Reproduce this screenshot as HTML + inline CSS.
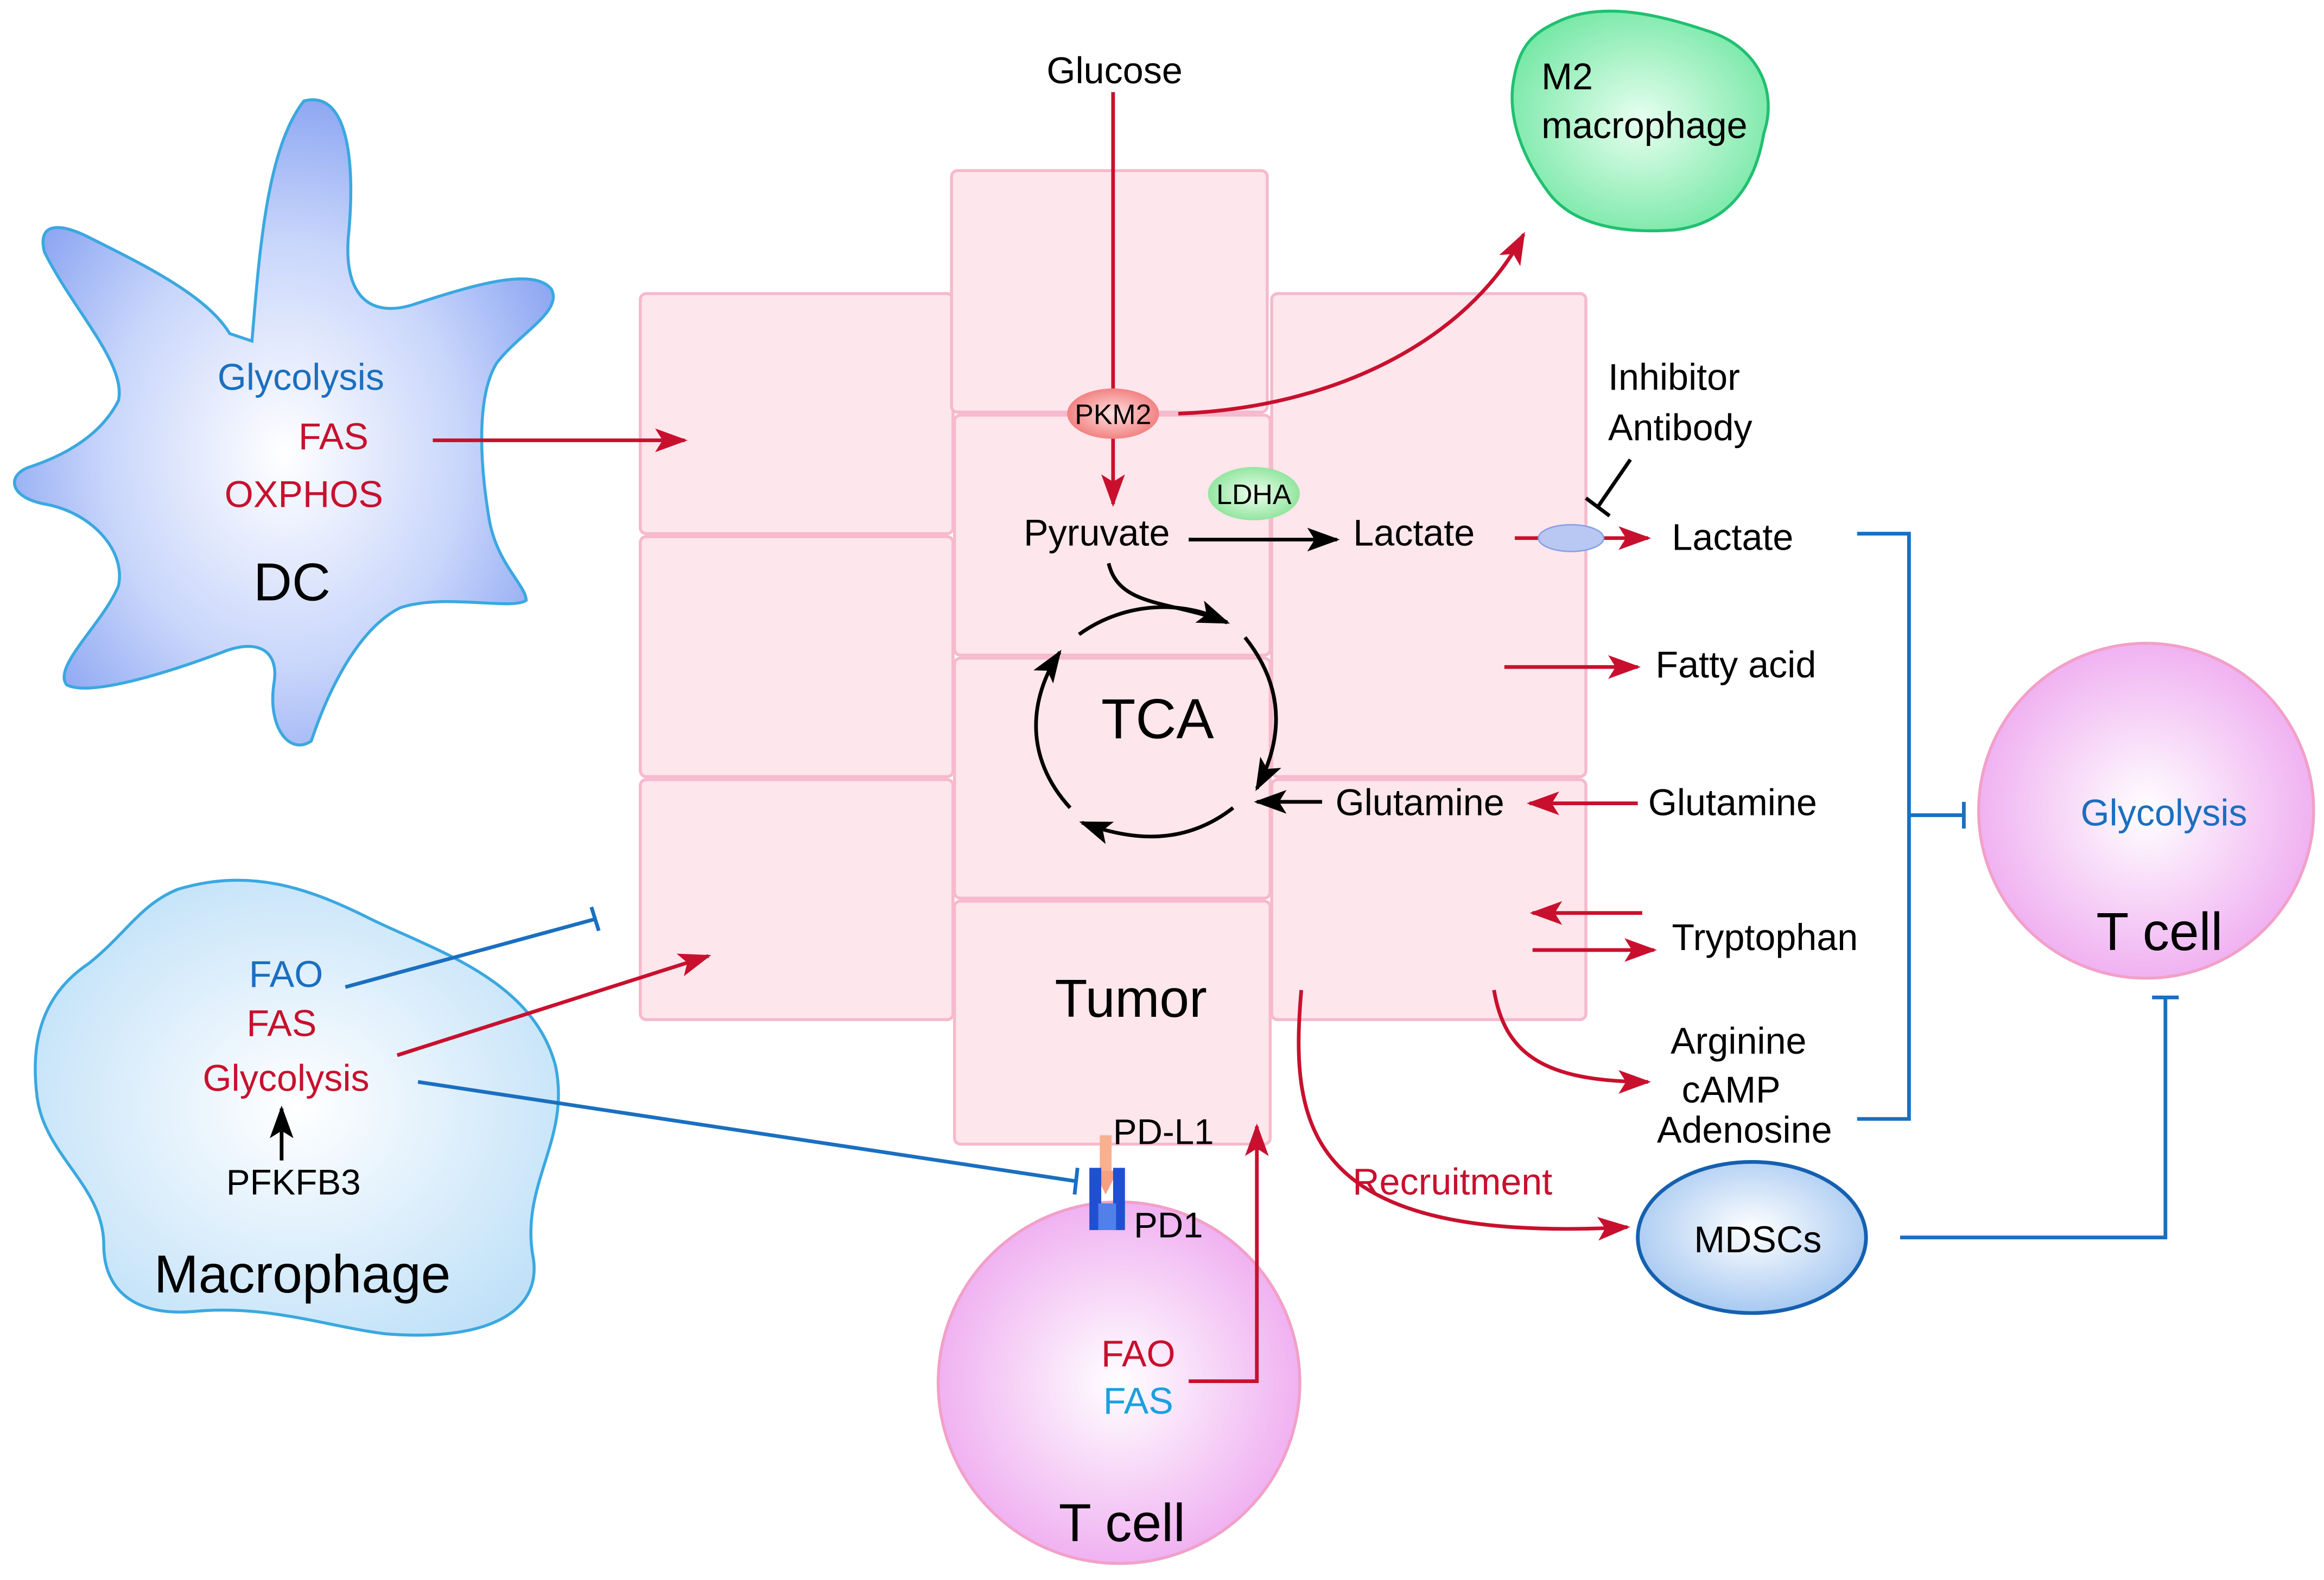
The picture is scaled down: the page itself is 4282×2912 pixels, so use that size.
<!DOCTYPE html>
<html><head><meta charset="utf-8"><style>html,body{margin:0;padding:0;background:#fff}svg{display:block}</style></head>
<body>
<svg width="4282" height="2912" viewBox="0 0 1568 1066" xmlns="http://www.w3.org/2000/svg" font-family="Liberation Sans, sans-serif">
<defs>
<radialGradient id="dc" cx="50%" cy="55%" r="55%"><stop offset="0" stop-color="#ffffff"/><stop offset="0.6" stop-color="#c9d6fb"/><stop offset="1" stop-color="#8fa8f2"/></radialGradient>
<radialGradient id="mac" cx="50%" cy="50%" r="60%"><stop offset="0" stop-color="#ffffff"/><stop offset="1" stop-color="#bfe0f8"/></radialGradient>
<radialGradient id="m2" cx="50%" cy="50%" r="60%"><stop offset="0" stop-color="#e8fff0"/><stop offset="1" stop-color="#6ee6a0"/></radialGradient>
<radialGradient id="tc" cx="50%" cy="50%" r="55%"><stop offset="0" stop-color="#ffffff"/><stop offset="1" stop-color="#eeaaf0"/></radialGradient>
<radialGradient id="md" cx="50%" cy="45%" r="60%"><stop offset="0" stop-color="#ffffff"/><stop offset="1" stop-color="#9fc4f0"/></radialGradient>
<radialGradient id="pk" cx="50%" cy="50%" r="60%"><stop offset="0" stop-color="#ffe0e0"/><stop offset="1" stop-color="#f07070"/></radialGradient>
<radialGradient id="ld" cx="50%" cy="50%" r="60%"><stop offset="0" stop-color="#f0fff0"/><stop offset="1" stop-color="#80e090"/></radialGradient>
<marker id="ar2" markerWidth="22" markerHeight="16" refX="20" refY="8" orient="auto" markerUnits="userSpaceOnUse"><path d="M0,0 L22,8 L0,16 L5,8z" fill="#c8102e"/></marker>
<marker id="ab2" markerWidth="22" markerHeight="16" refX="20" refY="8" orient="auto" markerUnits="userSpaceOnUse"><path d="M0,0 L22,8 L0,16 L5,8z" fill="#000"/></marker>
</defs>
<g fill="#fde6ec" stroke="#f6b9cd" stroke-width="2">
<rect x="432" y="198" width="211" height="162" rx="4"/><rect x="432" y="362" width="211" height="162" rx="4"/><rect x="432" y="526" width="211" height="162" rx="4"/>
<rect x="642" y="115" width="213" height="163" rx="4"/><rect x="644" y="280" width="213" height="162" rx="4"/><rect x="644" y="444" width="213" height="162" rx="4"/><rect x="644" y="608" width="213" height="164" rx="4"/>
<rect x="858" y="198" width="212" height="326" rx="4"/><rect x="858" y="526" width="212" height="162" rx="4"/>
</g>
<!-- DC -->
<path d="M170,230 C175,170 180,100 205,68 C235,60 240,110 235,160 C232,200 250,215 280,205 C320,192 360,180 372,195 C380,210 350,225 335,245 C320,270 325,320 330,350 C335,380 355,395 355,405 C345,412 300,400 270,410 C240,425 220,470 210,500 C195,510 180,490 185,460 C188,440 175,430 150,440 C110,455 60,470 45,462 C35,450 70,420 80,395 C85,370 60,345 30,340 C5,335 5,320 20,315 C50,305 70,290 80,270 C85,245 50,210 30,170 C25,150 40,150 60,160 C100,180 140,200 155,225 Z" fill="url(#dc)" stroke="#3aa8e0" stroke-width="2"/>
<text x="203" y="263" font-size="25" fill="#1a6fc0" text-anchor="middle">Glycolysis</text>
<text x="225" y="303" font-size="25" fill="#c8102e" text-anchor="middle">FAS</text>
<text x="205" y="342" font-size="25" fill="#c8102e" text-anchor="middle">OXPHOS</text>
<text x="197" y="405" font-size="36" fill="#000" text-anchor="middle">DC</text>
<line x1="292" y1="297" x2="462" y2="297" stroke="#c8102e" stroke-width="2.5" marker-end="url(#ar2)"/>
<!-- Macrophage -->
<path d="M120,600 C170,585 210,600 250,620 C290,640 360,660 375,720 C385,770 350,800 360,850 C365,890 320,905 260,900 C220,895 180,880 130,885 C90,888 70,870 70,840 C70,800 30,780 25,740 C20,700 30,670 60,650 C85,630 95,610 120,600Z" fill="url(#mac)" stroke="#3aa8e0" stroke-width="2"/>
<text x="193" y="666" font-size="25" fill="#1a6fc0" text-anchor="middle">FAO</text>
<text x="190" y="699" font-size="25" fill="#c8102e" text-anchor="middle">FAS</text>
<text x="193" y="736" font-size="25" fill="#c8102e" text-anchor="middle">Glycolysis</text>
<text x="198" y="806" font-size="24" fill="#000" text-anchor="middle">PFKFB3</text>
<text x="204" y="872" font-size="36" fill="#000" text-anchor="middle">Macrophage</text>
<line x1="190" y1="783" x2="190" y2="748" stroke="#000" stroke-width="2.5" marker-end="url(#ab2)"/>
<line x1="233" y1="666" x2="402" y2="620" stroke="#1a6fc0" stroke-width="2.5"/><line x1="399" y1="612" x2="404" y2="628" stroke="#1a6fc0" stroke-width="2.5"/>
<line x1="268" y1="712" x2="478" y2="645" stroke="#c8102e" stroke-width="2.5" marker-end="url(#ar2)"/>
<line x1="282" y1="730" x2="726" y2="797" stroke="#1a6fc0" stroke-width="2.5"/><line x1="727" y1="788" x2="725" y2="806" stroke="#1a6fc0" stroke-width="2.5"/>
<!-- M2 -->
<path d="M1050,15 C1080,0 1120,10 1150,20 C1185,30 1200,60 1190,90 C1185,120 1170,150 1130,155 C1090,158 1060,150 1045,130 C1030,110 1015,80 1022,50 C1026,30 1035,22 1050,15Z" fill="url(#m2)" stroke="#20c070" stroke-width="2"/>
<text x="1040" y="60" font-size="25">M2</text>
<text x="1040" y="93" font-size="25">macrophage</text>
<!-- Glucose path -->
<text x="752" y="56" font-size="25" text-anchor="middle">Glucose</text>
<line x1="751" y1="62" x2="751" y2="340" stroke="#c8102e" stroke-width="2.5" marker-end="url(#ar2)"/>
<ellipse cx="751" cy="279" rx="31" ry="17" fill="url(#pk)"/>
<text x="751" y="286" font-size="19" text-anchor="middle">PKM2</text>
<path d="M795,279 C900,275 990,230 1028,158" fill="none" stroke="#c8102e" stroke-width="2.5" marker-end="url(#ar2)"/>
<text x="740" y="368" font-size="25" text-anchor="middle">Pyruvate</text>
<ellipse cx="846" cy="333" rx="31" ry="18" fill="url(#ld)"/>
<text x="846" y="340" font-size="19" text-anchor="middle">LDHA</text>
<line x1="802" y1="364" x2="902" y2="364" stroke="#000" stroke-width="2.5" marker-end="url(#ab2)"/>
<text x="954" y="368" font-size="25" text-anchor="middle">Lactate</text>
<line x1="1022" y1="363" x2="1112" y2="363" stroke="#c8102e" stroke-width="2.5" marker-end="url(#ar2)"/>
<ellipse cx="1060" cy="363" rx="22" ry="9" fill="#b8c8f2" stroke="#8aa0e6"/>
<text x="1085" y="263" font-size="25">Inhibitor</text>
<text x="1085" y="297" font-size="25">Antibody</text>
<line x1="1100" y1="310" x2="1078" y2="342" stroke="#000" stroke-width="2.5"/><line x1="1070" y1="336" x2="1086" y2="348" stroke="#000" stroke-width="2.5"/>
<text x="1128" y="371" font-size="25">Lactate</text>
<line x1="1015" y1="450" x2="1105" y2="450" stroke="#c8102e" stroke-width="2.5" marker-end="url(#ar2)"/>
<text x="1117" y="457" font-size="25">Fatty acid</text>
<!-- TCA -->
<path d="M748,380 C755,410 790,405 828,420" fill="none" stroke="#000" stroke-width="2.5" marker-end="url(#ab2)"/>
<path d="M840,430 C868,465 865,500 848,532" fill="none" stroke="#000" stroke-width="2.5" marker-end="url(#ab2)"/>
<path d="M832,545 C800,570 765,568 730,555" fill="none" stroke="#000" stroke-width="2.5" marker-end="url(#ab2)"/>
<path d="M722,545 C690,510 695,470 715,440" fill="none" stroke="#000" stroke-width="2.5" marker-end="url(#ab2)"/>
<path d="M728,428 C760,405 800,405 828,420" fill="none" stroke="#000" stroke-width="2.5"/>
<text x="781" y="498" font-size="38" text-anchor="middle">TCA</text>
<line x1="892" y1="541" x2="848" y2="541" stroke="#000" stroke-width="2.5" marker-end="url(#ab2)"/>
<text x="958" y="550" font-size="25" text-anchor="middle">Glutamine</text>
<line x1="1105" y1="542" x2="1032" y2="542" stroke="#c8102e" stroke-width="2.5" marker-end="url(#ar2)"/>
<text x="1112" y="550" font-size="25">Glutamine</text>
<line x1="1108" y1="616" x2="1034" y2="616" stroke="#c8102e" stroke-width="2.5" marker-end="url(#ar2)"/>
<line x1="1034" y1="641" x2="1116" y2="641" stroke="#c8102e" stroke-width="2.5" marker-end="url(#ar2)"/>
<text x="1128" y="641" font-size="25">Tryptophan</text>
<path d="M1008,668 C1015,710 1040,730 1112,730" fill="none" stroke="#c8102e" stroke-width="2.5" marker-end="url(#ar2)"/>
<text x="1173" y="711" font-size="25" text-anchor="middle">Arginine</text>
<text x="1168" y="744" font-size="25" text-anchor="middle">cAMP</text>
<text x="1177" y="771" font-size="25" text-anchor="middle">Adenosine</text>
<text x="763" y="686" font-size="36" text-anchor="middle">Tumor</text>
<!-- blue bracket -->
<polyline points="1253,360 1288,360 1288,755 1253,755" fill="none" stroke="#1a6fc0" stroke-width="2.5"/>
<line x1="1288" y1="550" x2="1325" y2="550" stroke="#1a6fc0" stroke-width="2.5"/><line x1="1325" y1="541" x2="1325" y2="559" stroke="#1a6fc0" stroke-width="2.5"/>
<!-- T cell right -->
<circle cx="1448" cy="547" r="113" fill="url(#tc)" stroke="#f2a0c8" stroke-width="2"/>
<text x="1460" y="557" font-size="25" fill="#1a6fc0" text-anchor="middle">Glycolysis</text>
<text x="1457" y="641" font-size="36" text-anchor="middle">T cell</text>
<!-- MDSCs -->
<path d="M878,668 C870,760 880,840 1098,828" fill="none" stroke="#c8102e" stroke-width="2.5" marker-end="url(#ar2)"/>
<text x="980" y="806" font-size="25" fill="#c8102e" text-anchor="middle">Recruitment</text>
<ellipse cx="1182" cy="835" rx="77" ry="51" fill="url(#md)" stroke="#1560b0" stroke-width="2.5"/>
<text x="1186" y="845" font-size="25" text-anchor="middle">MDSCs</text>
<polyline points="1282,835 1461,835 1461,673" fill="none" stroke="#1a6fc0" stroke-width="2.5"/>
<line x1="1452" y1="673" x2="1470" y2="673" stroke="#1a6fc0" stroke-width="2.5"/>
<!-- T cell bottom -->
<circle cx="755" cy="933" r="122" fill="url(#tc)" stroke="#f2a0c8" stroke-width="2"/>
<text x="768" y="922" font-size="25" fill="#c8102e" text-anchor="middle">FAO</text>
<text x="768" y="954" font-size="25" fill="#1aa0e0" text-anchor="middle">FAS</text>
<text x="757" y="1040" font-size="36" text-anchor="middle">T cell</text>
<polyline points="802,932 848,932 848,760" fill="none" stroke="#c8102e" stroke-width="2.5" marker-end="url(#ar2)"/>
<text x="751" y="772" font-size="24">PD-L1</text>
<text x="765" y="835" font-size="24">PD1</text>
<rect x="742" y="766" width="8" height="28" fill="#f8b090"/>
<path d="M738,790 L754,790 L746,806Z" fill="#f8a080"/>
<rect x="735" y="788" width="8" height="42" fill="#2050d0"/><rect x="751" y="788" width="8" height="42" fill="#2050d0"/>
<rect x="741" y="812" width="12" height="18" fill="#5080e8"/>
</svg>
</body></html>
